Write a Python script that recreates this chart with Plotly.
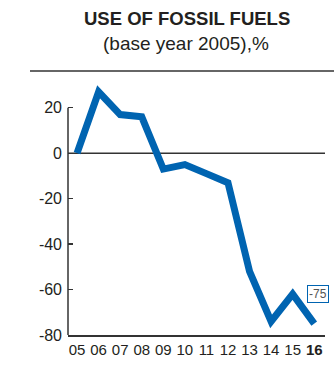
import plotly.graph_objects as go

years = ["05", "06", "07", "08", "09", "10", "11", "12", "13", "14", "15", "16"]
tick_labels = ["05", "06", "07", "08", "09", "10", "11", "12", "13", "14", "15", "<b>16</b>"]
values = [0, 27, 17, 16, -7, -5, -9, -13, -52, -74, -62, -75]
y_ticks = [20, 0, -20, -40, -60, -80]
last_label = "-75"

FONT = "Liberation Sans, Arial, sans-serif"
TXT = "#231f20"
BLUE = "#0064b1"

W, H = 334, 367
ml, mr, mt, mb = 68, 9, 85, 30
pw, ph = W - ml - mr, H - mt - mb

x_idx = list(range(len(years)))

fig = go.Figure()
fig.add_trace(go.Scatter(
    x=x_idx, y=values, mode="lines",
    line=dict(color=BLUE, width=7, shape="linear"),
    hoverinfo="skip", showlegend=False,
))

fig.update_layout(
    width=W, height=H,
    margin=dict(l=ml, r=mr, t=mt, b=mb, pad=0),
    paper_bgcolor="white", plot_bgcolor="white",
    font=dict(family=FONT, color=TXT, size=15),
    xaxis=dict(
        range=[-0.42, 11.5], tickmode="array", tickvals=x_idx, ticktext=tick_labels,
        showgrid=False, zeroline=False, showline=True, linecolor="#333333", linewidth=1.5,
        ticks="", tickangle=0, tickfont=dict(size=15, color=TXT), fixedrange=True,
    ),
    yaxis=dict(
        range=[-80, 30], tickmode="array", tickvals=y_ticks,
        ticktext=[str(v) for v in y_ticks],
        showgrid=False, zeroline=False, showline=False,
        ticks="inside", ticklen=5, tickwidth=1.2, tickcolor="#333333",
        tickfont=dict(size=16, color=TXT), ticklabelstandoff=5, fixedrange=True,
    ),
)

# vertical axis line from -80 to 20
fig.add_shape(type="line", xref="paper", yref="y", x0=0, x1=0, y0=-80, y1=20,
              line=dict(color="#333333", width=1.5), layer="above")
# zero line
fig.add_shape(type="line", xref="paper", yref="y", x0=0, x1=1, y0=0, y1=0,
              line=dict(color="#333333", width=1.5), layer="below")

def px_x(p):
    return (p - ml) / pw

def px_y(p):
    return 1 + (mt - p) / ph

# horizontal rule under title
fig.add_shape(type="line", xref="paper", yref="paper",
              x0=px_x(30), x1=px_x(334), y0=px_y(71), y1=px_y(71),
              line=dict(color="#333333", width=1.5))

fig.add_annotation(text="<b>USE OF FOSSIL FUELS</b>", xref="paper", yref="paper",
                   x=px_x(187), y=px_y(18), xanchor="center", yanchor="middle",
                   showarrow=False, font=dict(size=18.5, color=TXT, family=FONT))
fig.add_annotation(text="(base year 2005),%", xref="paper", yref="paper",
                   x=px_x(186), y=px_y(43), xanchor="center", yanchor="middle",
                   showarrow=False, font=dict(size=19, color=TXT, family=FONT))

fig.add_annotation(text=last_label, x=11.16, y=-62, xref="x", yref="y",
                   showarrow=False, font=dict(size=12, color="#555555", family=FONT),
                   bordercolor=BLUE, borderwidth=1, borderpad=1, bgcolor="white")

fig.write_html("out.html", config={"displayModeBar": False, "staticPlot": True},
               post_script="document.body.style.margin='0';document.body.style.overflow='hidden';")
